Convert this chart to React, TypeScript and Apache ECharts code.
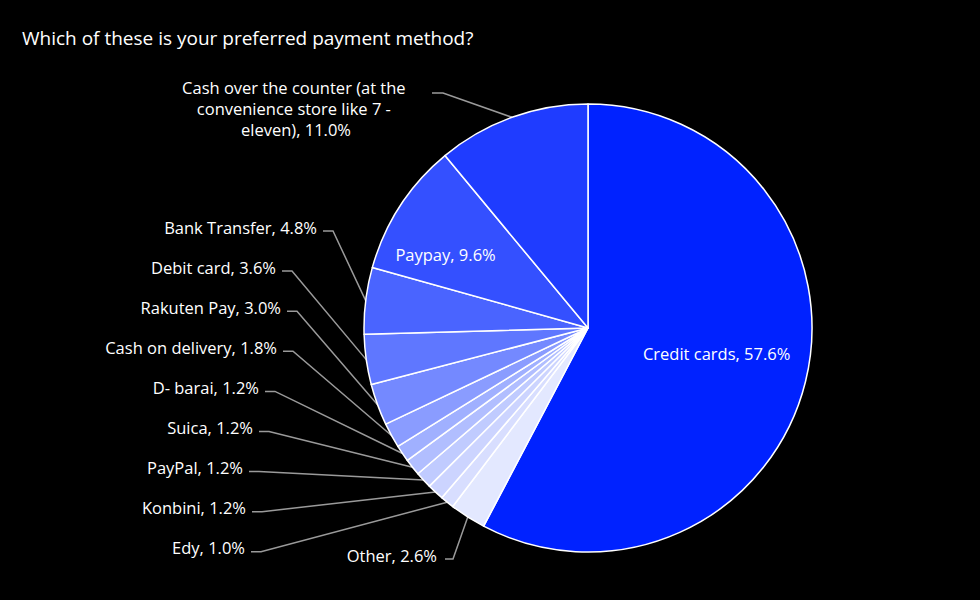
import { useRef, useEffect } from 'react'
import * as echarts from 'echarts'

const categories = [
  'Credit cards',
  'Other',
  'Edy',
  'Konbini',
  'PayPal',
  'Suica',
  'D- barai',
  'Cash on delivery',
  'Rakuten Pay',
  'Debit card',
  'Bank Transfer',
  'Paypay',
  'Cash over the counter (at the convenience store like 7 - eleven)',
]
const shares = [57.6, 2.6, 1.0, 1.2, 1.2, 1.2, 1.2, 1.8, 3.0, 3.6, 4.8, 9.6, 11.0]
const sliceColors = [
  '#0022ff', '#e3e8ff', '#d8deff', '#ccd4ff', '#c0cbff', '#b1beff', '#a0b0ff',
  '#8a9cff', '#7489ff', '#5f77ff', '#4a64ff', '#3450ff', '#1f3cff',
]

// label layout (left column, top to bottom: Bank Transfer ... Edy)
const leftTop = 227
const leftGap = 40.1
const leftLineX = [323, 282, 287, 283, 265, 259, 249, 252, 251]

const FONT = '"Open Sans", sans-serif'
const CX = 588
const CY = 328
const R = 224

const total = shares.reduce((a, b) => a + b, 0)

// point on the rim at the middle angle of slice i (clockwise from 12 o'clock)
function rimPoint(i: number): [number, number] {
  let before = 0
  for (let k = 0; k < i; k++) before += shares[k]
  const mid = ((before + shares[i] / 2) / total) * Math.PI * 2
  return [CX + R * Math.sin(mid), CY - R * Math.cos(mid)]
}

export default function App() {
  const chartRef = useRef<HTMLDivElement>(null)

  useEffect(() => {
    if (!chartRef.current) return
    const chart = echarts.init(chartRef.current, undefined, { renderer: 'svg' })

    const data = categories.map((name, i) => {
      const item: any = { name, value: shares[i], itemStyle: { color: sliceColors[i] } }
      if (i === 0) item.label = { position: 'inside', offset: [17, -2] }
      if (i === 11) item.label = { position: 'inside', offset: [-46, -11] }
      if (i === 12) item.label = { width: 248, overflow: 'break', align: 'center', lineHeight: 21 }
      return item
    })

    chart.setOption({
      animation: false,
      backgroundColor: '#000000',
      title: {
        text: 'Which of these is your preferred payment method?',
        left: 22,
        top: 28,
        padding: 0,
        textStyle: { color: '#ffffff', fontSize: 19, fontWeight: 500, fontFamily: FONT },
      },
      series: [{
        type: 'pie',
        center: [CX, CY],
        radius: R,
        startAngle: 90,
        clockwise: true,
        avoidLabelOverlap: false,
        minShowLabelAngle: 0,
        itemStyle: { borderColor: '#ffffff', borderWidth: 1.5 },
        label: {
          color: '#ffffff',
          fontSize: 16.5,
          fontFamily: FONT,
          formatter: (p: any) => `${p.name}, ${p.value.toFixed(1)}%`,
        },
        labelLine: {
          show: true,
          length: 20,
          length2: 10,
          lineStyle: { color: '#9a9a9a', width: 1.5 },
        },
        labelLayout: (params: any) => {
          const i = params.dataIndex
          if (i === 0 || i === 11) return {}
          const rim = rimPoint(i)
          if (i === 12) {
            return {
              x: 296, y: 108, align: 'center', verticalAlign: 'middle',
              labelLinePoints: [rim, [443, 93], [432, 93]],
            }
          }
          if (i === 1) {
            return {
              x: 437, y: 555, align: 'right', verticalAlign: 'middle',
              labelLinePoints: [rim, [453, 559], [445, 559]],
            }
          }
          const slot = 10 - i
          const y = leftTop + slot * leftGap
          const lx = leftLineX[slot]
          return {
            x: lx - 6, y, align: 'right', verticalAlign: 'middle',
            labelLinePoints: [rim, [lx + 10, y + 4], [lx, y + 4]],
          }
        },
        emphasis: { disabled: true },
        data,
      }],
    })

    return () => chart.dispose()
  }, [])

  return <div ref={chartRef} style={{ position: 'fixed', left: 0, top: 0, width: 980, height: 600 }} />
}
